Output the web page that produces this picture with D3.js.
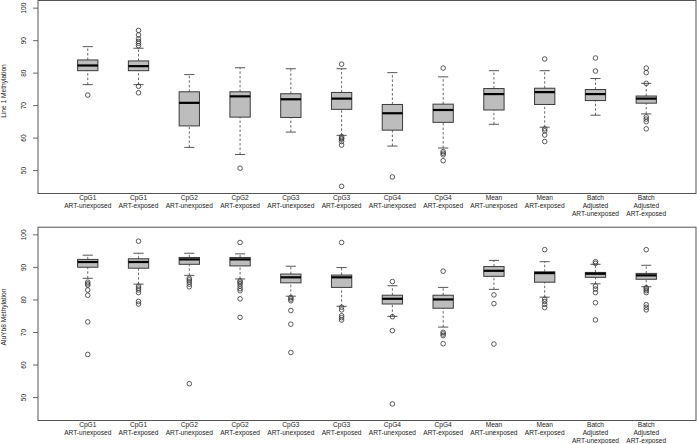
<!DOCTYPE html>
<html>
<head>
<meta charset="utf-8">
<script src="https://cdn.jsdelivr.net/npm/d3@7/dist/d3.min.js"></script>
<style>
  html, body { margin: 0; padding: 0; background: #fff; }
  svg { display: block; font-family: "Liberation Sans", Arial, sans-serif; }
  .tick text, .x-label, .y-title { fill: #222; font-size: 6.6px; }
</style>
</head>
<body>
<svg id="chart" width="697" height="444"></svg>
<script>
// category labels (one line per array entry)
var groupLabels = [
  ["CpG1", "ART-unexposed"],
  ["CpG1", "ART-exposed"],
  ["CpG2", "ART-unexposed"],
  ["CpG2", "ART-exposed"],
  ["CpG3", "ART-unexposed"],
  ["CpG3", "ART-exposed"],
  ["CpG4", "ART-unexposed"],
  ["CpG4", "ART-exposed"],
  ["Mean", "ART-unexposed"],
  ["Mean", "ART-exposed"],
  ["Batch", "Adjusted", "ART-unexposed"],
  ["Batch", "Adjusted", "ART-exposed"]
];

var yTicks = [50, 60, 70, 80, 90, 100];

// [lower whisker, Q1, median, Q3, upper whisker]
var line1Stats = [
  [76.3, 80.6, 82.2, 83.9, 88.0],
  [76.3, 80.6, 82.0, 83.6, 87.5],
  [57.0, 63.6, 70.7, 74.1, 79.4],
  [54.8, 66.3, 72.7, 74.1, 81.5],
  [61.7, 66.2, 71.8, 73.5, 81.2],
  [60.7, 68.7, 72.0, 73.9, 81.2],
  [57.4, 62.3, 67.5, 70.2, 80.0],
  [56.8, 64.7, 68.5, 70.3, 78.7],
  [64.1, 68.5, 73.4, 75.1, 80.6],
  [63.2, 70.2, 74.0, 75.2, 80.6],
  [66.9, 71.4, 73.4, 74.8, 78.2],
  [67.3, 70.6, 72.0, 72.8, 76.7]
];
var line1Outliers = [
  [73.1],
  [93.0, 91.6, 90.4, 89.6, 89.0, 88.3, 75.8, 73.8],
  [],
  [50.6],
  [],
  [82.6, 60.3, 59.8, 59.5, 58.8, 57.7, 45.0],
  [47.9],
  [81.4, 55.7, 55.2, 54.7, 52.9],
  [],
  [84.2, 62.7, 62.1, 60.8, 58.8],
  [84.5, 80.5],
  [81.4, 80.0, 76.7, 66.4, 65.7, 64.9, 62.7]
];

var aluStats = [
  [86.5, 89.9, 91.5, 92.3, 93.6],
  [84.7, 89.6, 91.5, 92.5, 94.2],
  [87.4, 90.8, 92.3, 92.9, 94.2],
  [86.3, 90.3, 92.3, 92.9, 94.0],
  [81.0, 85.1, 86.8, 87.8, 90.2],
  [77.9, 83.7, 86.8, 87.5, 89.8],
  [74.8, 78.6, 80.2, 81.3, 84.2],
  [71.5, 77.3, 80.0, 81.3, 83.7],
  [83.1, 87.1, 88.8, 90.1, 92.0],
  [80.7, 85.3, 88.1, 88.5, 91.6],
  [84.8, 86.8, 87.9, 88.3, 90.8],
  [83.9, 86.2, 87.4, 88.0, 90.5]
];
var aluOutliers = [
  [85.3, 84.8, 84.4, 82.9, 81.3, 73.1, 63.1],
  [97.9, 84.1, 83.5, 82.9, 82.1, 79.4, 78.6],
  [86.5, 86.0, 85.4, 84.7, 83.9, 54.1],
  [97.5, 85.7, 85.3, 84.8, 84.1, 83.3, 82.7, 80.2, 74.5],
  [80.6, 80.1, 79.6, 76.6, 72.4, 63.7],
  [97.5, 77.6, 76.8, 75.0, 74.4, 73.7],
  [85.5, 74.7, 70.4, 47.9],
  [88.7, 69.9, 69.4, 68.9, 66.4],
  [81.4, 78.7, 66.3],
  [95.3, 80.1, 79.4, 78.5, 77.5],
  [91.6, 91.1, 84.1, 83.2, 82.1, 79.0, 73.7],
  [95.3, 83.6, 83.2, 82.7, 82.1, 78.4, 77.6, 76.8]
];

var svg = d3.select("#chart"),
  margin = { left: 38, right: 1 },
  width = 697,
  x = d3.scaleLinear()
    .domain([0.02, 12.98])
    .range([margin.left, width - margin.right]),
  boxWidth = x(1.4) - x(1),
  capWidth = boxWidth / 2;

var drawPanel = function(top, bottom, title, titleY, stats, outliers) {
  var y = d3.scaleLinear()
      .domain([42.8, 102.2])
      .range([bottom, top]),
    g = svg.append("g").attr("class", "panel"),
    boxes, yAxis, labels;

  // y axis with rotated tick labels
  yAxis = g.append("g")
    .attr("class", "y axis")
    .attr("transform", "translate(" + margin.left + ",0)")
    .call(d3.axisLeft(y).tickValues(yTicks).tickSize(5).tickFormat(d3.format("d")));
  yAxis.select(".domain").remove();
  yAxis.selectAll(".tick line").attr("stroke", "#444").attr("stroke-width", 0.8);
  yAxis.selectAll(".tick text")
    .attr("x", null)
    .attr("dy", null)
    .attr("text-anchor", "middle")
    .attr("transform", "translate(-14,0) rotate(-90)")
    .attr("dy", "0.35em");

  g.append("text")
    .attr("class", "y-title")
    .attr("text-anchor", "middle")
    .attr("transform", "translate(6," + titleY + ") rotate(-90)")
    .text(title);

  boxes = g.selectAll(".box")
    .data(stats)
    .enter()
    .append("g")
      .attr("class", "box")
      .attr("transform", function(d, i) { return "translate(" + x(i + 1) + ",0)"; });

  // whiskers
  boxes.append("line")
    .attr("y1", function(d) { return y(d[0]); })
    .attr("y2", function(d) { return y(d[1]); })
    .attr("stroke", "#444").attr("stroke-width", 0.8).attr("stroke-dasharray", "2.5,2");
  boxes.append("line")
    .attr("y1", function(d) { return y(d[3]); })
    .attr("y2", function(d) { return y(d[4]); })
    .attr("stroke", "#444").attr("stroke-width", 0.8).attr("stroke-dasharray", "2.5,2");

  // caps
  [0, 4].forEach(function(k) {
    boxes.append("line")
      .attr("x1", -capWidth / 2)
      .attr("x2", capWidth / 2)
      .attr("y1", function(d) { return y(d[k]); })
      .attr("y2", function(d) { return y(d[k]); })
      .attr("stroke", "#444").attr("stroke-width", 0.9);
  });

  boxes.append("rect")
    .attr("x", -boxWidth / 2)
    .attr("width", boxWidth)
    .attr("y", function(d) { return y(d[3]); })
    .attr("height", function(d) { return y(d[1]) - y(d[3]); })
    .attr("fill", "#bdbdbd")
    .attr("stroke", "#3a3a3a")
    .attr("stroke-width", 1);

  boxes.append("line")
    .attr("x1", -boxWidth / 2)
    .attr("x2", boxWidth / 2)
    .attr("y1", function(d) { return y(d[2]); })
    .attr("y2", function(d) { return y(d[2]); })
    .attr("stroke", "#000")
    .attr("stroke-width", 2.2);

  boxes.each(function(d, i) {
    d3.select(this).selectAll("circle")
      .data(outliers[i])
      .enter()
      .append("circle")
        .attr("cy", function(v) { return y(v); })
        .attr("r", 2.3)
        .attr("fill", "none")
        .attr("stroke", "#333")
        .attr("stroke-width", 0.8);
  });

  // category labels below the frame
  labels = g.selectAll(".x-label")
    .data(groupLabels)
    .enter()
    .append("text")
      .attr("class", "x-label")
      .attr("text-anchor", "middle")
      .attr("x", function(d, i) { return x(i + 1); });
  labels.selectAll("tspan")
    .data(function(d) { return d; })
    .enter()
    .append("tspan")
      .attr("x", function() { return d3.select(this.parentNode).attr("x"); })
      .attr("y", function(d, j) { return bottom + 6.2 + j * 8; })
      .text(function(d) { return d; });

  // frame
  g.append("rect")
    .attr("x", margin.left)
    .attr("y", top)
    .attr("width", width - margin.right - margin.left)
    .attr("height", bottom - top)
    .attr("fill", "none")
    .attr("stroke", "#555")
    .attr("stroke-width", 1);
};

drawPanel(0.5, 193.5, "Line 1 Methylation", 91, line1Stats, line1Outliers);
drawPanel(227.2, 420.5, "AluYb8  Methylation", 317, aluStats, aluOutliers);
</script>
</body>
</html>
